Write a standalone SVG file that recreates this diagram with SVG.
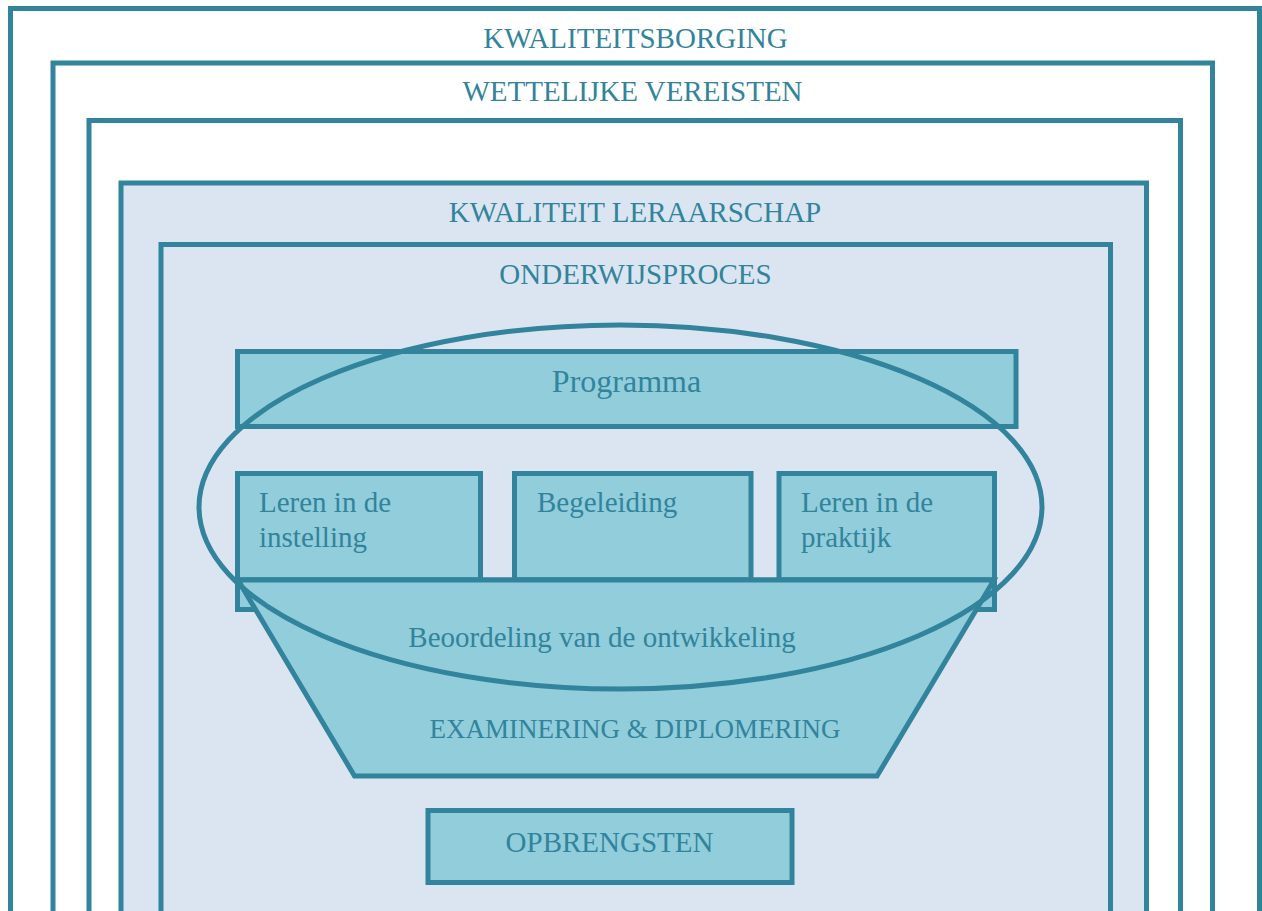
<svg xmlns="http://www.w3.org/2000/svg" width="1262" height="911" viewBox="0 0 1262 911">
<style>
.frame{fill:none;stroke:#31849b;stroke-width:5}
.light{fill:#dbe5f1;stroke:#31849b;stroke-width:5}
.box{fill:#92cddc;stroke:#31849b;stroke-width:5}
text{font-family:'Liberation Serif','DejaVu Serif',serif;fill:#31849b;font-size:29px}
.c{text-anchor:middle}
</style>
<rect width="1262" height="911" fill="#ffffff"/>
<g id="kwaliteitsborging">
<rect class="frame" x="10.5" y="8.5" width="1249" height="940"/>
<text class="c" x="635.5" y="47.5">KWALITEITSBORGING</text>
</g>
<g id="wettelijke-vereisten">
<rect class="frame" x="53" y="63" width="1159.5" height="900"/>
<text class="c" x="632.5" y="100.5">WETTELIJKE VEREISTEN</text>
</g>
<g id="binnenkader">
<rect class="frame" x="89" y="120.5" width="1091.5" height="850"/>
</g>
<g id="kwaliteit-leraarschap">
<rect class="light" x="121" y="183" width="1025.5" height="800"/>
<text class="c" x="635" y="222">KWALITEIT LERAARSCHAP</text>
</g>
<g id="onderwijsproces">
<rect class="light" x="161" y="244.5" width="949.5" height="750"/>
<text class="c" x="635.5" y="284">ONDERWIJSPROCES</text>
</g>
<g id="programma">
<rect class="box" x="237.5" y="351.5" width="778.5" height="75"/>
<text class="c" x="626.5" y="391.5" style="font-size:32px">Programma</text>
</g>
<g id="leren-instelling">
<rect class="box" x="237.5" y="473.5" width="243" height="106.5"/>
<text x="259" y="512">Leren in de</text>
<text x="259" y="547">instelling</text>
</g>
<g id="begeleiding">
<rect class="box" x="514.5" y="473.5" width="236.5" height="106.5"/>
<text x="537" y="512">Begeleiding</text>
</g>
<g id="leren-praktijk">
<rect class="box" x="779" y="473.5" width="215.5" height="106.5"/>
<text x="801" y="512">Leren in de</text>
<text x="801" y="547">praktijk</text>
</g>
<g id="examinering">
<rect class="box" x="237.5" y="580" width="757" height="29.5"/>
<polygon class="box" points="238,580 994,580 877,776 354.5,776"/>
<text class="c" x="602" y="647">Beoordeling van de ontwikkeling</text>
<text class="c" x="635" y="737.5" style="font-size:27px">EXAMINERING &amp; DIPLOMERING</text>
</g>
<g id="opbrengsten">
<rect class="box" x="428" y="810.5" width="364" height="72"/>
<text class="c" x="609.5" y="852">OPBRENGSTEN</text>
</g>
<g id="connectors">
<ellipse cx="620.5" cy="507" rx="421.5" ry="182" fill="none" stroke="#31849b" stroke-width="5"/>
</g>
</svg>
